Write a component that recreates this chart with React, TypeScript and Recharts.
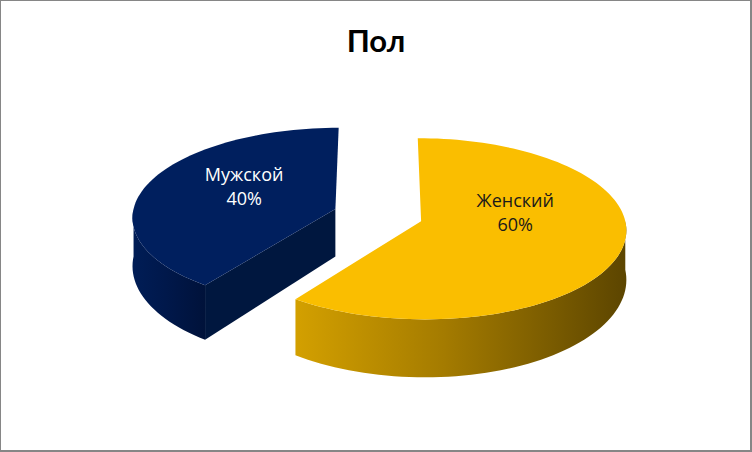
import { PieChart, Pie } from 'recharts';

const categories = ['Женский', 'Мужской'];
const shares = [60, 40];

const data = categories.map((name, i) => ({ name, value: shares[i] }));

const topColors = ['#FABE00', '#001F5E'];
const faceColors = ['#7A5C00', '#00173F'];
const wallGradients = [
  ['#D3A000', '#A47B00', '#5C4500'],
  ['#001D56', '#00184B', '#00123A'],
];
const labelColors = ['#1A1A1A', '#FFFFFF'];

const RAD = Math.PI / 180;
const TILT = 0.438; // ry / rx of the top face
const PERSP = 0.084; // front of the disc drawn a little bigger than the back
const DEPTH = 48;
const EXPLODE = 0.222; // share of the radius

function Slice3D(props: any) {
  const { cx, cy, outerRadius, startAngle, endAngle, midAngle, index, percent, name } = props;
  const R = outerRadius;
  const ex = EXPLODE * Math.cos(midAngle * RAD);
  const ey = EXPLODE * Math.sin(midAngle * RAD);

  // disc coords (u, v) -> screen, h = 0 top face, 1 bottom face
  const proj = (u: number, v: number, h = 0) => {
    const g = 1 / (1 + PERSP * v);
    return [cx + R * u * g, cy - R * TILT * v * g + DEPTH * h * g * g];
  };
  const rim = (a: number, h = 0) => proj(ex + Math.cos(a * RAD), ey + Math.sin(a * RAD), h);
  const mid = (h = 0) => proj(ex, ey, h);
  const arc = (from: number, to: number, h = 0) => {
    const n = Math.max(2, Math.ceil(Math.abs(from - to) / 2));
    const pts: number[][] = [];
    for (let i = 0; i <= n; i++) pts.push(rim(from + ((to - from) * i) / n, h));
    return pts;
  };
  const toPath = (pts: number[][]) =>
    pts.map((p, i) => `${i ? 'L' : 'M'}${p[0].toFixed(2)},${p[1].toFixed(2)}`).join(' ') + ' Z';

  const s = startAngle;
  const e = endAngle;
  const top = toPath([mid(), ...arc(s, e)]);

  const faces: string[] = [];
  const face = (a: number) => toPath([mid(), rim(a), rim(a, 1), mid(1)]);
  if (Math.cos(s * RAD) < -0.01) faces.push(face(s));
  if (Math.cos(e * RAD) > 0.01) faces.push(face(e));

  const walls: string[] = [];
  for (let k = -2; k <= 1; k++) {
    const lo = Math.max(e, -180 + 360 * k);
    const hi = Math.min(s, 360 * k);
    if (hi - lo > 0.01) {
      walls.push(toPath([...arc(hi, lo), ...arc(lo, hi, 1)]));
    }
  }

  const lp = proj(ex + 0.48 * Math.cos(midAngle * RAD), ey + 0.26 * Math.sin(midAngle * RAD));
  const lx = lp[0];
  const ly = lp[1] - 16;
  const gid = `wall-${index}`;
  const stops = wallGradients[index];

  return (
    <g>
      <defs>
        <linearGradient id={gid} x1="0" y1="0" x2="1" y2="0">
          <stop offset="0%" stopColor={stops[0]} />
          <stop offset="45%" stopColor={stops[1]} />
          <stop offset="100%" stopColor={stops[2]} />
        </linearGradient>
      </defs>
      {faces.map((d, i) => (
        <path key={`f${i}`} d={d} fill={faceColors[index]} />
      ))}
      {walls.map((d, i) => (
        <path key={`w${i}`} d={d} fill={`url(#${gid})`} />
      ))}
      <path d={top} fill={topColors[index]} />
      <text
        x={lx}
        y={ly}
        textAnchor="middle"
        fill={labelColors[index]}
        style={{ fontFamily: '"Open Sans", sans-serif', fontSize: 18 }}
      >
        <tspan x={lx} dy={-5}>{name}</tspan>
        <tspan x={lx} dy={24}>{`${Math.round(percent * 100)}%`}</tspan>
      </text>
    </g>
  );
}

export default function App() {
  return (
    <div style={{ position: 'fixed', left: 0, top: 0, width: 752, height: 452, background: '#fff' }}>
      <PieChart width={752} height={452} margin={{ top: 0, right: 0, bottom: 0, left: 0 }}>
        <Pie
          data={data}
          dataKey="value"
          nameKey="name"
          cx={378}
          cy={215}
          outerRadius={203}
          startAngle={90}
          endAngle={-270}
          fill="none"
          stroke="none"
          labelLine={false}
          label={Slice3D}
          isAnimationActive={false}
        />
      </PieChart>
      <svg width={752} height={452} style={{ position: 'absolute', left: 0, top: 0, pointerEvents: 'none' }}>
        <rect x={0.5} y={0.5} width={750} height={450} fill="none" stroke="#868686" />
        <line x1={751} y1={0} x2={751} y2={452} stroke="#868686" strokeWidth={2} />
        <line x1={0} y1={451} x2={752} y2={451} stroke="#868686" strokeWidth={2} />
        <text
          x={376}
          y={52}
          textAnchor="middle"
          style={{ fontFamily: 'Lato, "Open Sans", sans-serif', fontWeight: 700, fontSize: 31 }}
          fill="#000"
        >
          Пол
        </text>
      </svg>
    </div>
  );
}
